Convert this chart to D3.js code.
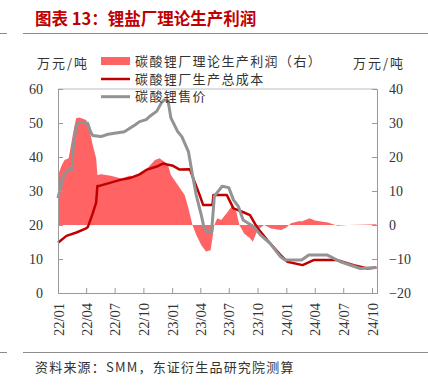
<!DOCTYPE html>
<html>
<head>
<meta charset="utf-8">
<script src="https://cdn.jsdelivr.net/npm/d3@7"></script>
<style>
  body { margin: 0; background: #fff; }
  svg { display: block; }
  .cn { font-family: "Noto Sans CJK SC", sans-serif; }
  .num { font-family: "Liberation Serif", "DejaVu Serif", serif; }
</style>
</head>
<body>
<div id="chart"></div>
<script>
// 碳酸锂售价 (万元/吨, 左轴)
const priceDates = ["2022-01-01","2022-01-13","2022-01-22","2022-02-04","2022-02-15","2022-02-19","2022-03-01","2022-03-10",
  "2022-04-06","2022-04-15","2022-04-22","2022-05-18","2022-06-10","2022-08-01","2022-09-04","2022-09-19","2022-10-10",
  "2022-10-22","2022-11-13","2022-11-28","2022-12-07","2022-12-19","2022-12-28","2023-01-19","2023-02-01","2023-02-22",
  "2023-03-07","2023-03-19","2023-04-04","2023-04-13","2023-04-22","2023-05-07","2023-05-16","2023-06-10","2023-07-01",
  "2023-07-16","2023-08-01","2023-08-16","2023-09-19","2023-10-10","2023-11-10","2023-12-13","2023-12-28","2024-02-19",
  "2024-03-13","2024-05-10","2024-06-22","2024-08-25","2024-10-15"]
const priceValues = [27.9,32.7,35.2,36.2,36.3,43.5,49.4,50.2,
  49.9,47.4,46.3,46.0,46.7,47.4,49.4,50.4,51.0,
  52.0,53.5,56.0,56.8,56.5,51.5,47.4,46.0,41.6,
  34.7,28.8,23.0,19.1,18.0,18.0,28.5,31.4,31.0,
  27.4,25.4,21.5,19.5,17.1,14.6,10.7,9.7,9.7,
  11.2,11.2,9.2,7.2,7.5]

// 碳酸锂厂生产总成本 (万元/吨, 左轴)
const costDates = ["2022-01-01","2022-01-28","2022-03-01","2022-04-01","2022-04-07","2022-04-22","2022-05-03","2022-05-07",
  "2022-05-13","2022-06-16","2022-07-16","2022-08-19","2022-09-19","2022-10-10","2022-11-13","2022-12-04","2022-12-16",
  "2023-01-04","2023-01-25","2023-02-27","2023-03-07","2023-03-28","2023-04-10","2023-05-10","2023-05-13","2023-06-25",
  "2023-07-16","2023-08-13","2023-09-07","2023-09-28","2023-11-01","2023-12-13","2024-01-04","2024-02-22","2024-03-28",
  "2024-06-10","2024-08-04","2024-09-16","2024-10-15"]
const costValues = [14.8,16.8,17.8,19.0,19.5,23.4,26.6,31.5,
  31.5,32.4,33.2,33.8,34.9,36.2,37.2,38.1,37.8,
  37.4,36.3,36.4,34.3,29.3,25.9,25.9,28.8,28.8,
  24.9,23.9,22.9,19.5,15.6,11.2,9.2,8.2,9.7,
  9.7,8.2,7.2,7.5]

// 碳酸锂厂理论生产利润 (万元/吨, 右轴)
const profitDates = ["2022-01-01","2022-01-13","2022-01-22","2022-02-04","2022-02-08","2022-02-19","2022-02-28","2022-03-10",
  "2022-04-01","2022-04-11","2022-04-22","2022-05-03","2022-05-07","2022-05-19","2022-06-19","2022-07-22","2022-08-19",
  "2022-09-04","2022-10-04","2022-11-07","2022-11-22","2022-12-07","2022-12-19","2022-12-28","2023-01-19","2023-02-10",
  "2023-02-22","2023-03-07","2023-03-19","2023-04-04","2023-04-19","2023-05-04","2023-05-16","2023-05-25","2023-06-07",
  "2023-06-28","2023-07-13","2023-07-25","2023-08-04","2023-08-19","2023-09-07","2023-09-16","2023-10-01","2023-10-22",
  "2023-11-13","2023-12-16","2024-01-01","2024-01-16","2024-02-13","2024-02-19","2024-03-16","2024-04-01","2024-05-13",
  "2024-06-13","2024-07-15","2024-08-20","2024-10-15"]
const profitValues = [14.7,17.6,19.1,19.6,21.6,27.4,31.4,31.6,
  30.9,28.4,23.5,19.6,14.7,14.9,14.5,13.7,14.5,
  14.2,15.7,19.1,19.6,18.6,17.6,14.7,11.8,8.8,
  4.9,0.0,-2.9,-5.9,-7.8,-7.4,0.0,2.0,1.5,
  3.9,5.9,3.9,0.0,-2.5,-3.9,-4.9,-1.5,0.0,
  -1.0,-1.5,-0.7,0.5,1.2,1.0,2.0,1.3,0.7,
  -0.2,0.0,0.1,0.2]

const leftTicks = [0, 10, 20, 30, 40, 50, 60]
const rightTicks = [-20, -10, 0, 10, 20, 30, 40]
const legendNames = ["碳酸锂厂理论生产利润（右）", "碳酸锂厂生产总成本", "碳酸锂售价"]

const W = 428, H = 388
const plot = {left: 58, right: 377, top: 89, bottom: 293}
const parse = d3.timeParse("%Y-%m-%d")

const svg = d3.select("#chart").append("svg")
  .attr("width", W).attr("height", H)

// title and rules
svg.append("text").attr("class", "cn")
  .attr("x", 35).attr("y", 25)
  .attr("fill", "#c00000").attr("font-size", 16.5).attr("font-weight", "bold")
  .text("图表 13：锂盐厂理论生产利润")

function rule(y) {
  svg.append("line").attr("x1", 0).attr("x2", 7).attr("y1", y).attr("y2", y)
    .attr("stroke", "#8c8c8c").attr("stroke-width", 1)
  svg.append("line").attr("x1", 23).attr("x2", W).attr("y1", y).attr("y2", y)
    .attr("stroke", "#8c8c8c").attr("stroke-width", 1)
}
rule(33.5)
rule(352.5)

svg.append("text").attr("class", "cn")
  .attr("x", 35).attr("y", 372)
  .attr("font-size", 13).attr("letter-spacing", 1.2).attr("fill", "#333")
  .text("资料来源：SMM，东证衍生品研究院测算")

// scales
const x = d3.scaleTime()
  .domain([parse("2022-01-01"), parse("2024-10-17")])
  .range([plot.left, plot.right])
const yL = d3.scaleLinear().domain([0, 60]).range([plot.bottom, plot.top])
const yR = d3.scaleLinear().domain([-20, 40]).range([plot.bottom, plot.top])

const price = priceDates.map((d, i) => ({date: parse(d), v: priceValues[i]}))
const cost = costDates.map((d, i) => ({date: parse(d), v: costValues[i]}))
const profit = profitDates.map((d, i) => ({date: parse(d), v: profitValues[i]}))

// profit area
svg.append("path").datum(profit)
  .attr("fill", "#ff6363")
  .attr("d", d3.area().x(d => x(d.date)).y0(yR(0)).y1(d => yR(d.v)))

// lines
svg.append("path").datum(cost)
  .attr("fill", "none").attr("stroke", "#c00000").attr("stroke-width", 2.5)
  .attr("stroke-linejoin", "round")
  .attr("d", d3.line().x(d => x(d.date)).y(d => yL(d.v)))

svg.append("path").datum(price)
  .attr("fill", "none").attr("stroke", "#939393").attr("stroke-width", 3)
  .attr("stroke-linejoin", "round")
  .attr("d", d3.line().x(d => x(d.date)).y(d => yL(d.v)))

// frame top
svg.append("line")
  .attr("x1", plot.left).attr("x2", plot.right)
  .attr("y1", plot.top).attr("y2", plot.top)
  .attr("stroke", "#bdbdbd").attr("stroke-width", 1)

// axes
const gL = svg.append("g").attr("transform", "translate(" + plot.left + ",0)")
  .call(d3.axisLeft(yL).tickValues(leftTicks).tickSize(-5).tickPadding(15))
const gR = svg.append("g").attr("transform", "translate(" + plot.right + ",0)")
  .call(d3.axisRight(yR).tickValues(rightTicks).tickSize(-5).tickPadding(12))
const gB = svg.append("g").attr("transform", "translate(0," + plot.bottom + ")")
  .call(d3.axisBottom(x).ticks(d3.timeMonth.every(3)).tickFormat(d3.timeFormat("%y/%m")).tickSize(-5))

for (const g of [gL, gR, gB]) {
  g.selectAll(".domain, .tick line").attr("stroke", "#9a9a9a")
  g.selectAll("text").attr("class", "num").attr("font-size", 14).attr("fill", "#333")
    .attr("font-family", "Liberation Serif, serif")
}
gB.selectAll("text")
  .attr("transform", "rotate(-90)")
  .attr("text-anchor", "end")
  .attr("x", -10).attr("y", 0).attr("dy", "0.35em")
  .attr("font-size", 14.5)

// unit labels
svg.append("text").attr("class", "cn").attr("x", 37).attr("y", 68)
  .attr("font-size", 13).attr("letter-spacing", 2).attr("fill", "#333").text("万元/吨")
svg.append("text").attr("class", "cn").attr("x", 353).attr("y", 68)
  .attr("font-size", 13).attr("letter-spacing", 2).attr("fill", "#333").text("万元/吨")

// legend
const lg = svg.append("g")
const rows = [61.5, 79, 96.7]
lg.append("rect").attr("x", 101).attr("y", 57).attr("width", 29).attr("height", 8).attr("fill", "#ff6363")
lg.append("line").attr("x1", 101).attr("x2", 130).attr("y1", rows[1]).attr("y2", rows[1])
  .attr("stroke", "#c00000").attr("stroke-width", 2.5)
lg.append("line").attr("x1", 101).attr("x2", 130).attr("y1", rows[2]).attr("y2", rows[2])
  .attr("stroke", "#939393").attr("stroke-width", 3)
lg.selectAll("text.lt").data(legendNames).enter().append("text")
  .attr("class", "cn lt")
  .attr("x", 135).attr("y", (d, i) => rows[i]).attr("dy", "0.35em")
  .attr("font-size", 13).attr("letter-spacing", 1.4).attr("fill", "#333")
  .text(d => d)
</script>
</body>
</html>
